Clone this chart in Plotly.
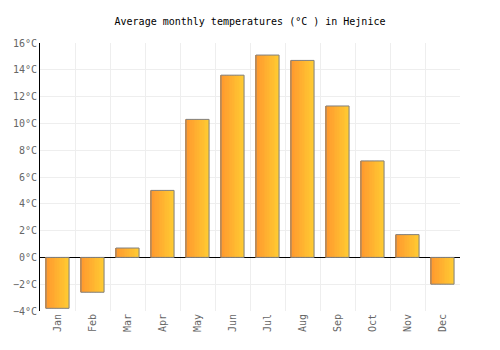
import plotly.graph_objects as go

months = ["Jan", "Feb", "Mar", "Apr", "May", "Jun", "Jul", "Aug", "Sep", "Oct", "Nov", "Dec"]
temps = [-3.8, -2.6, 0.7, 5.0, 10.3, 13.6, 15.1, 14.7, 11.3, 7.2, 1.7, -2.0]

bar_w = 0.66
n_slices = 14
c0 = (255, 152, 46)
c1 = (255, 202, 50)

fig = go.Figure()
for i in range(n_slices):
    t = i / (n_slices - 1)
    col = "rgb(%d,%d,%d)" % tuple(round(a + (b - a) * t) for a, b in zip(c0, c1))
    fig.add_trace(go.Bar(
        x=months, y=temps, width=bar_w / n_slices * 1.05,
        offset=-bar_w / 2 + i * bar_w / n_slices,
        marker=dict(color=col, line=dict(width=0)),
        hoverinfo="skip", showlegend=False,
    ))
fig.add_trace(go.Bar(
    x=months, y=temps, width=bar_w, offset=-bar_w / 2,
    marker=dict(color="rgba(0,0,0,0)", line=dict(color="#808080", width=1)),
    showlegend=False,
))

fig.update_layout(
    width=500, height=350,
    margin=dict(l=40, r=40, t=43, b=39),
    barmode="overlay",
    plot_bgcolor="white", paper_bgcolor="white",
    title=dict(text="Average monthly temperatures (°C ) in Hejnice", x=0.5, xanchor="center",
               y=0.94, yanchor="middle",
               font=dict(family="DejaVu Sans Mono", size=10, color="black")),
    font=dict(family="DejaVu Sans Mono", size=10, color="#666666"),
)
fig.update_xaxes(
    type="category", tickson="boundaries", showgrid=True, gridcolor="#EEEEEE", gridwidth=1,
    tickangle=-90, ticks="", showline=False, zeroline=False,
    range=[-0.5, 11.5],
)
fig.update_yaxes(
    range=[-4, 16], dtick=2, ticksuffix="°C", showgrid=True, gridcolor="#EEEEEE",
    zeroline=True, zerolinecolor="black", zerolinewidth=1,
    showline=True, linecolor="black", linewidth=1, ticks="",
)

fig.write_html("out.html")
